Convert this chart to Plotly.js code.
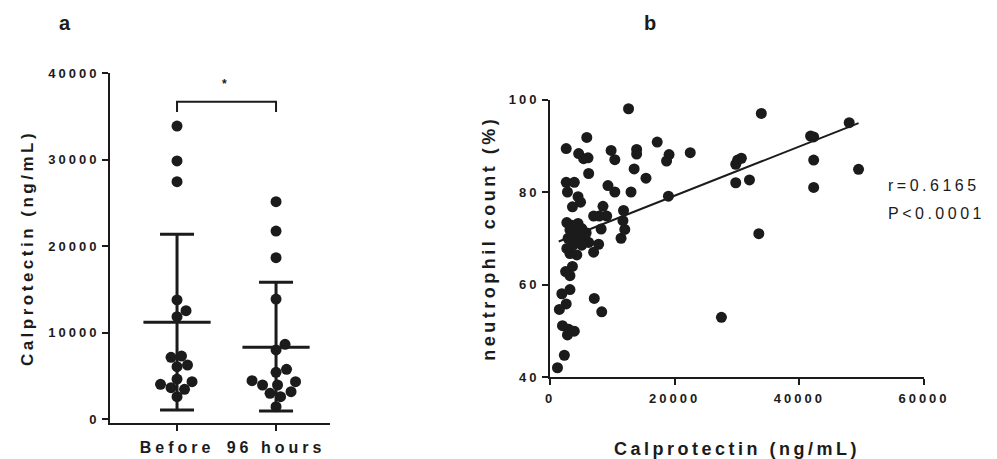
<!DOCTYPE html>
<html>
<head>
<meta charset="utf-8">
<script src="https://cdn.plot.ly/plotly-3.0.1.min.js"></script>
<style>
html,body{margin:0;padding:0;background:#fff;}
#chart{width:997px;height:459px;}
.ytick text,.x2tick text,.y2tick text{letter-spacing:3px;}
.xtick text{letter-spacing:4px;}
.g-ytitle text,.g-x2title text,.g-y2title text{letter-spacing:3.5px;}
.annotation-text{letter-spacing:3.5px;}
</style>
</head>
<body>
<div id="chart"></div>
<script>
// ---------- Panel a data ----------
var groupLabels = ['Before', '96 hours'];
var beforeVals = [33870, 29830, 27430, 13760, 12520, 11830, 7130, 7280, 6050, 6240, 4620, 4310, 4010, 3620, 3430, 2580];
var after96Vals = [25120, 21730, 18650, 13870, 8640, 7980, 5400, 5750, 4430, 3930, 3930, 4310, 3160, 2970, 2580, 1420];
var groupMeans = [11180, 8290];
var groupSdPlus = [10170, 7510];
var groupSdMinus = [10140, 7365];
var aTickVals = [0, 10000, 20000, 30000, 40000];
var bracketLevel = 36680;
var bracketTip = 35490;
var starLevel = 38700;

// ---------- Panel b data ----------
var calproX = [12600, 33900, 48000, 41800, 42300, 5900, 2600, 17200, 22500, 9800,
  13900, 13900, 4600, 5400, 6100, 10400, 19100, 18700, 30100, 30700,
  29800, 42300, 49500, 13500, 6200, 15400, 32000, 29800, 2600, 3900,
  42300, 2800, 9300, 10400, 13000, 4500, 19000, 4900, 3600, 8500,
  11800, 7000, 7900, 9100, 11700, 2700, 12000, 8200, 33500, 11400,
  5800, 6200, 7800, 7000, 3500, 4500, 5100, 3200, 4000, 2900,
  4300, 5600, 3700, 5100, 2700, 3200, 4300, 3600, 2500, 3200,
  3200, 1900, 7100, 2600, 1500, 8300, 27500, 2000, 3000, 3900,
  2800, 2300, 1200];
var neutroY = [98.0, 97.0, 95.0, 92.1, 91.9, 91.8, 89.4, 90.8, 88.5, 89.0,
  89.2, 88.2, 88.3, 87.2, 87.4, 87.0, 88.1, 86.7, 86.9, 87.3,
  86.0, 86.9, 84.9, 85.0, 84.0, 83.0, 82.6, 82.0, 82.1, 82.1,
  81.0, 80.0, 81.4, 80.0, 80.0, 79.0, 79.1, 77.8, 76.8, 76.9,
  76.0, 74.8, 74.8, 74.8, 73.8, 73.4, 71.9, 72.0, 71.0, 70.0,
  71.2, 69.1, 68.7, 67.0, 72.8, 73.2, 72.1, 71.8, 71.1, 70.0,
  70.3, 70.3, 68.5, 68.5, 67.8, 66.7, 66.4, 63.9, 62.8, 61.9,
  58.9, 58.0, 57.0, 55.8, 54.6, 54.1, 52.9, 51.1, 50.3, 49.9,
  49.1, 44.7, 42.0];
var fitX = [1400, 49500];
var fitY = [69.3, 94.9];
var statR = 'r=0.6165';
var statP = 'P&lt;0.0001';
var bTickX = [0, 20000, 40000, 60000];
var bTickY = [40, 60, 80, 100];

// ---------- layout geometry ----------
var W = 997, H = 459;
var aLeft = 110, aRight = 330, aTop = 73, aBottom = 423;
var aXRange = [-0.677, 1.545];
var aYRange = [-462, 40000];
var pxPerCat = (aRight - aLeft) / (aXRange[1] - aXRange[0]);
var pxPerY = (aBottom - aTop) / (aYRange[1] - aYRange[0]);

// deterministic beeswarm placement (GraphPad-like scatter dot plot)
function swarm(vals, center, diam) {
  var order = vals.map(function (v, i) { return i; }).sort(function (a, b) { return vals[a] - vals[b]; });
  var placed = [], xs = new Array(vals.length);
  order.forEach(function (i, n) {
    var y = vals[i] * pxPerY;
    for (var k = 0; k < 400; k++) {
      var step = Math.ceil(k / 2) * 1.5;
      var sign = (k % 2 === 1) ? -1 : 1;
      if (n % 2 === 1) sign = -sign;
      var off = k === 0 ? 0 : sign * step;
      var ok = placed.every(function (p) { return Math.hypot(p.x - off, p.y - y) >= diam; });
      if (ok) { placed.push({x: off, y: y}); xs[i] = center + off / pxPerCat; break; }
    }
  });
  return xs;
}

var INK = '#1b1b1b';
var FONT = '"Liberation Sans", Arial, Helvetica, sans-serif';
var DOT = 11;

var traces = [
  {x: swarm(beforeVals, 0, 10.5), y: beforeVals, type: 'scatter', mode: 'markers',
   marker: {color: INK, size: DOT}, xaxis: 'x', yaxis: 'y', hoverinfo: 'y', showlegend: false},
  {x: swarm(after96Vals, 1, 10.5), y: after96Vals, type: 'scatter', mode: 'markers',
   marker: {color: INK, size: DOT}, xaxis: 'x', yaxis: 'y', hoverinfo: 'y', showlegend: false},
  {x: [0, 1], y: groupMeans, type: 'scatter', mode: 'markers',
   marker: {symbol: 'line-ew', size: 48, color: INK, line: {color: INK, width: 3}},
   error_y: {type: 'data', symmetric: false, array: groupSdPlus, arrayminus: groupSdMinus,
             color: INK, thickness: 3, width: 17},
   xaxis: 'x', yaxis: 'y', hoverinfo: 'y', showlegend: false},
  {x: [0, 0, 1, 1], y: [bracketTip, bracketLevel, bracketLevel, bracketTip], type: 'scatter', mode: 'lines',
   line: {color: INK, width: 2}, xaxis: 'x', yaxis: 'y', hoverinfo: 'skip', showlegend: false},
  {x: calproX, y: neutroY, type: 'scatter', mode: 'markers',
   marker: {color: INK, size: DOT}, xaxis: 'x2', yaxis: 'y2', showlegend: false},
  {x: fitX, y: fitY, type: 'scatter', mode: 'lines',
   line: {color: INK, width: 2}, xaxis: 'x2', yaxis: 'y2', hoverinfo: 'skip', showlegend: false}
];

var axCommon = {
  showline: true, linecolor: INK, linewidth: 2, mirror: false,
  ticks: 'outside', ticklen: 6, tickwidth: 2, tickcolor: INK,
  showgrid: false, zeroline: false, fixedrange: true
};

var layout = {
  width: W, height: H,
  margin: {l: 0, r: 0, t: 0, b: 0},
  paper_bgcolor: '#fff', plot_bgcolor: 'rgba(0,0,0,0)',
  font: {family: FONT, color: INK},
  showlegend: false,
  xaxis: Object.assign({}, axCommon, {
    domain: [aLeft / W, aRight / W], range: aXRange, anchor: 'y',
    tickvals: [0, 1], ticktext: groupLabels, ticklabelstandoff: 3,
    tickfont: {size: 16, weight: 700, family: FONT, color: INK}
  }),
  yaxis: Object.assign({}, axCommon, {
    domain: [1 - aBottom / H, 1 - aTop / H], range: aYRange, anchor: 'x',
    tickvals: aTickVals, tickformat: 'd',
    tickfont: {size: 13, weight: 700, family: FONT, color: INK},
    title: {text: 'Calprotectin (ng/mL)', standoff: 10, font: {size: 17, weight: 700, family: FONT, color: INK}}
  }),
  xaxis2: Object.assign({}, axCommon, {
    domain: [550 / W, 924 / W], range: [0, 60000], anchor: 'y2',
    tickvals: bTickX, tickformat: 'd', ticklabelstandoff: 2,
    tickfont: {size: 13, weight: 700, family: FONT, color: INK},
    title: {text: 'Calprotectin (ng/mL)', standoff: 38, font: {size: 18, weight: 700, family: FONT, color: INK}}
  }),
  yaxis2: Object.assign({}, axCommon, {
    domain: [1 - 377 / H, 1 - 99.5 / H], range: [40, 100], anchor: 'x2',
    tickvals: bTickY,
    tickfont: {size: 13, weight: 700, family: FONT, color: INK},
    title: {text: 'neutrophil count (%)', standoff: 8, font: {size: 18, weight: 700, family: FONT, color: INK}}
  }),
  annotations: [
    {text: 'a', xref: 'paper', yref: 'paper', x: 66.7 / W, y: 1 - 23 / H, xanchor: 'center', yanchor: 'middle',
     showarrow: false, font: {size: 20, weight: 700, family: FONT, color: INK}},
    {text: 'b', xref: 'paper', yref: 'paper', x: 652 / W, y: 1 - 23 / H, xanchor: 'center', yanchor: 'middle',
     showarrow: false, font: {size: 20, weight: 700, family: FONT, color: INK}},
    {text: '*', xref: 'x', yref: 'y', x: 0.49, y: starLevel, xanchor: 'center', yanchor: 'middle',
     showarrow: false, font: {size: 12, weight: 700, family: FONT, color: INK}},
    {text: statR, xref: 'paper', yref: 'paper', x: 886 / W, y: 1 - 185 / H, xanchor: 'left', yanchor: 'middle',
     showarrow: false, font: {size: 16, family: FONT, color: INK}},
    {text: statP, xref: 'paper', yref: 'paper', x: 886 / W, y: 1 - 213 / H, xanchor: 'left', yanchor: 'middle',
     showarrow: false, font: {size: 16, family: FONT, color: INK}}
  ]
};

Plotly.newPlot('chart', traces, layout, {displayModeBar: false, staticPlot: true});
</script>
</body>
</html>
